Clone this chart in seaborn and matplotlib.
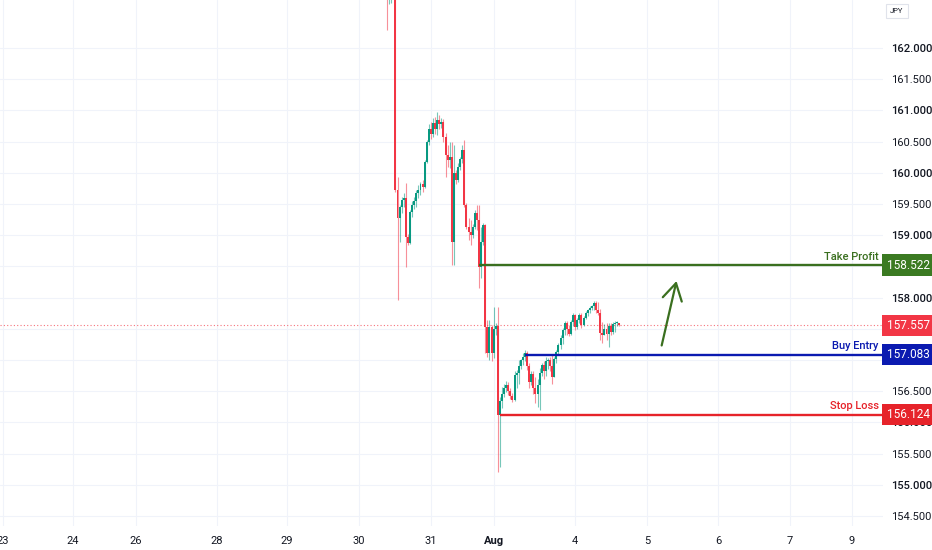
import numpy as np
import pandas as pd
import matplotlib
matplotlib.use("Agg")
import matplotlib.pyplot as plt
import matplotlib.transforms as mtransforms
import seaborn as sns

# USD/JPY candles (open of each candle = previous close)
first_open = 163.10
closes = [162.82, 162.95, 163.05, 163.00, 159.72, 159.27, 159.45, 159.56, 159.60, 158.97,
          158.88, 159.38, 159.48, 159.55, 159.67, 159.72, 159.82, 159.78, 160.17, 160.49,
          160.70, 160.62, 160.80, 160.70, 160.85, 160.78, 160.82, 160.57, 160.29, 160.21,
          160.25, 158.89, 160.00, 159.88, 160.10, 160.22, 160.37, 159.48, 159.13, 159.05,
          159.00, 159.13, 159.36, 159.25, 158.49, 158.89, 159.16, 157.53, 157.11, 157.53,
          157.11, 157.50, 157.55, 156.12, 156.35, 156.45, 156.55, 156.60, 156.50, 156.42,
          156.36, 156.76, 156.80, 156.90, 157.00, 157.05, 157.12, 156.90, 156.65, 156.78,
          156.55, 156.45, 156.60, 156.80, 156.92, 156.82, 156.98, 157.00, 156.90, 156.72,
          157.02, 157.13, 157.24, 157.35, 157.48, 157.59, 157.50, 157.42, 157.61, 157.72,
          157.53, 157.64, 157.72, 157.56, 157.67, 157.75, 157.80, 157.83, 157.86, 157.91,
          157.80, 157.75, 157.43, 157.40, 157.50, 157.42, 157.55, 157.45, 157.58, 157.59,
          157.60, 157.557]
highs = [163.20, 163.00, 163.10, 163.15, 163.05, 159.93, 159.48, 159.62, 159.68, 159.84,
         159.02, 159.40, 159.55, 159.62, 159.72, 159.80, 159.86, 159.88, 160.20, 160.52,
         160.78, 160.82, 160.88, 160.90, 160.98, 160.92, 160.88, 160.86, 160.64, 160.45,
         160.50, 160.49, 160.45, 160.05, 160.15, 160.26, 160.45, 160.53, 159.52, 159.28,
         159.25, 159.18, 159.40, 159.48, 159.48, 159.13, 159.20, 159.18, 157.64, 157.64,
         157.56, 157.85, 157.60, 157.85, 156.40, 156.57, 156.62, 156.66, 156.64, 156.55,
         156.47, 156.82, 156.84, 157.00, 157.02, 157.12, 157.16, 157.14, 156.95, 156.82,
         156.82, 156.72, 156.70, 156.88, 156.95, 156.98, 157.05, 157.03, 157.05, 157.08,
         157.05, 157.16, 157.28, 157.40, 157.52, 157.62, 157.62, 157.56, 157.64, 157.76,
         157.74, 157.67, 157.76, 157.76, 157.70, 157.78, 157.82, 157.86, 157.88, 157.94,
         157.95, 157.93, 157.82, 157.61, 157.58, 157.60, 157.59, 157.60, 157.61, 157.62,
         157.62, 157.60]
lows = [162.29, 162.70, 162.72, 162.85, 159.70, 157.96, 158.89, 159.35, 159.45, 158.49,
        158.85, 158.86, 159.30, 159.42, 159.45, 159.60, 159.64, 159.70, 159.75, 160.15,
        160.45, 160.55, 160.58, 160.62, 160.60, 160.70, 160.72, 160.50, 159.93, 160.10,
        160.08, 158.52, 158.52, 159.82, 159.85, 160.05, 160.15, 159.45, 159.10, 158.92,
        158.85, 158.95, 159.10, 159.08, 158.15, 158.31, 158.85, 157.11, 157.05, 157.00,
        156.98, 157.03, 157.40, 155.21, 155.29, 156.23, 156.40, 156.48, 156.44, 156.38,
        156.32, 156.34, 156.55, 156.62, 156.85, 156.92, 156.98, 156.84, 156.55, 156.60,
        156.45, 156.31, 156.25, 156.20, 156.75, 156.70, 156.75, 156.85, 156.82, 156.62,
        156.72, 156.95, 157.08, 157.18, 157.26, 157.40, 157.40, 157.38, 157.40, 157.55,
        157.48, 157.50, 157.60, 157.52, 157.54, 157.65, 157.70, 157.76, 157.80, 157.80,
        157.75, 157.72, 157.32, 157.27, 157.40, 157.32, 157.21, 157.40, 157.42, 157.45,
        157.54, 157.54]

# time axis (bar units)
first_bar = 185.2
tick_bars = [1.4, 34.9, 65.1, 103.8, 137.3, 171.8, 206.2, 236.4, 275.1, 309.6, 343.5, 378.0, 407.7]
tick_labels = ['23', '24', '26', '28', '29', '30', '31', 'Aug', '4', '5', '6', '7', '9']
price_ticks = [154.5, 155.0, 155.5, 156.0, 156.5, 157.0, 157.5, 158.0, 158.5,
               159.0, 159.5, 160.0, 160.5, 161.0, 161.5, 162.0]

# trade levels
take_profit = 158.522
buy_entry = 157.083
stop_loss = 156.124
last_price = 157.557
tp_from, buy_from, sl_from = 44, 66, 54          # candle index where each level starts
arrow_from = (316.3, 157.19)
arrow_to = (324.0, 158.31)

UP, DOWN = '#089981', '#f23645'
GREEN, BLUE, RED = '#3a6f1f', '#0b1ab0', '#e6232a'
TXT = '#131722'

df = pd.DataFrame({'close': closes, 'high': highs, 'low': lows})
df['open'] = [first_open] + closes[:-1]
df['bar'] = first_bar + np.arange(len(df))
df['up'] = df['close'] >= df['open']
df['color'] = np.where(df['up'], UP, DOWN)

sns.set_style('white')
plt.rcParams['font.family'] = ['Roboto', 'DejaVu Sans']

fig = plt.figure(figsize=(9.32, 5.5), dpi=100)
ax = fig.add_axes([0, 24 / 550, 883 / 932, 526 / 550])
ax.set_xlim(0, 422.5)
ax.set_ylim(154.34, 162.77)

# wicks and bodies
ax.vlines(df['bar'], df['low'], df['high'], colors=df['color'], lw=0.8, alpha=0.55, zorder=3)
body = (df['close'] - df['open']).abs().clip(lower=0.015)
ax.bar(df['bar'], body, bottom=df[['open', 'close']].min(axis=1), width=0.95,
       color=df['color'], linewidth=0, zorder=4)

# grid
ax.set_xticks(tick_bars)
ax.set_xticklabels(tick_labels)
ax.set_yticks(price_ticks)
ax.set_yticklabels([f'{p:.3f}' for p in price_ticks])
ax.grid(True, color='#f0f3fa', lw=0.8)
ax.yaxis.tick_right()
ax.tick_params(axis='y', length=0, pad=6, labelsize=8, labelcolor=TXT)
ax.tick_params(axis='x', length=0, pad=7, labelsize=8, labelcolor=TXT)
for lab in ax.get_xticklabels():
    if lab.get_text() == 'Aug':
        lab.set_fontweight('bold')
for lab, p in zip(ax.get_yticklabels(), price_ticks):
    if float(p).is_integer():
        lab.set_fontweight('medium')
for s in ax.spines.values():
    s.set_visible(False)

# current price
ax.axhline(last_price, color=DOWN, lw=0.8, ls=(0, (1, 2)), alpha=0.7, zorder=2)

# trade levels
levels = [(take_profit, tp_from, GREEN, 'Take Profit'),
          (buy_entry, buy_from, BLUE, 'Buy Entry'),
          (stop_loss, sl_from, RED, 'Stop Loss')]
for price, start, color, name in levels:
    ax.hlines(price, df['bar'].iloc[start], ax.get_xlim()[1], color=color, lw=1.7, zorder=5)
    ax.annotate(name, xy=(0.995, price), xycoords=('axes fraction', 'data'),
                xytext=(0, 2.5), textcoords='offset points', ha='right', va='bottom',
                color=color, fontsize=8, fontweight='medium')

trans = mtransforms.blended_transform_factory(ax.transAxes, ax.transData)
for price, color in [(take_profit, '#3b7a22'), (last_price, DOWN),
                     (buy_entry, '#0b1ab0'), (stop_loss, '#e6232a')]:
    ax.text(1.004, price, f'{price:.3f}', transform=trans, ha='left', va='center',
            color='white', fontsize=8.5, clip_on=False, zorder=10,
            bbox=dict(boxstyle='square,pad=0.35', fc=color, ec='none'))

ax.annotate('', xy=arrow_to, xytext=arrow_from,
            arrowprops=dict(arrowstyle='->,head_length=0.6,head_width=0.35',
                            color=GREEN, lw=1.6, mutation_scale=20), zorder=6)

fig.text(897 / 932, 1 - 11 / 550, 'JPY', fontsize=5.5, color=TXT, ha='center', va='center',
         bbox=dict(boxstyle='square,pad=0.5', fc='white', ec='#e0e3eb', lw=0.8))

fig.savefig('out.png', dpi=100)
